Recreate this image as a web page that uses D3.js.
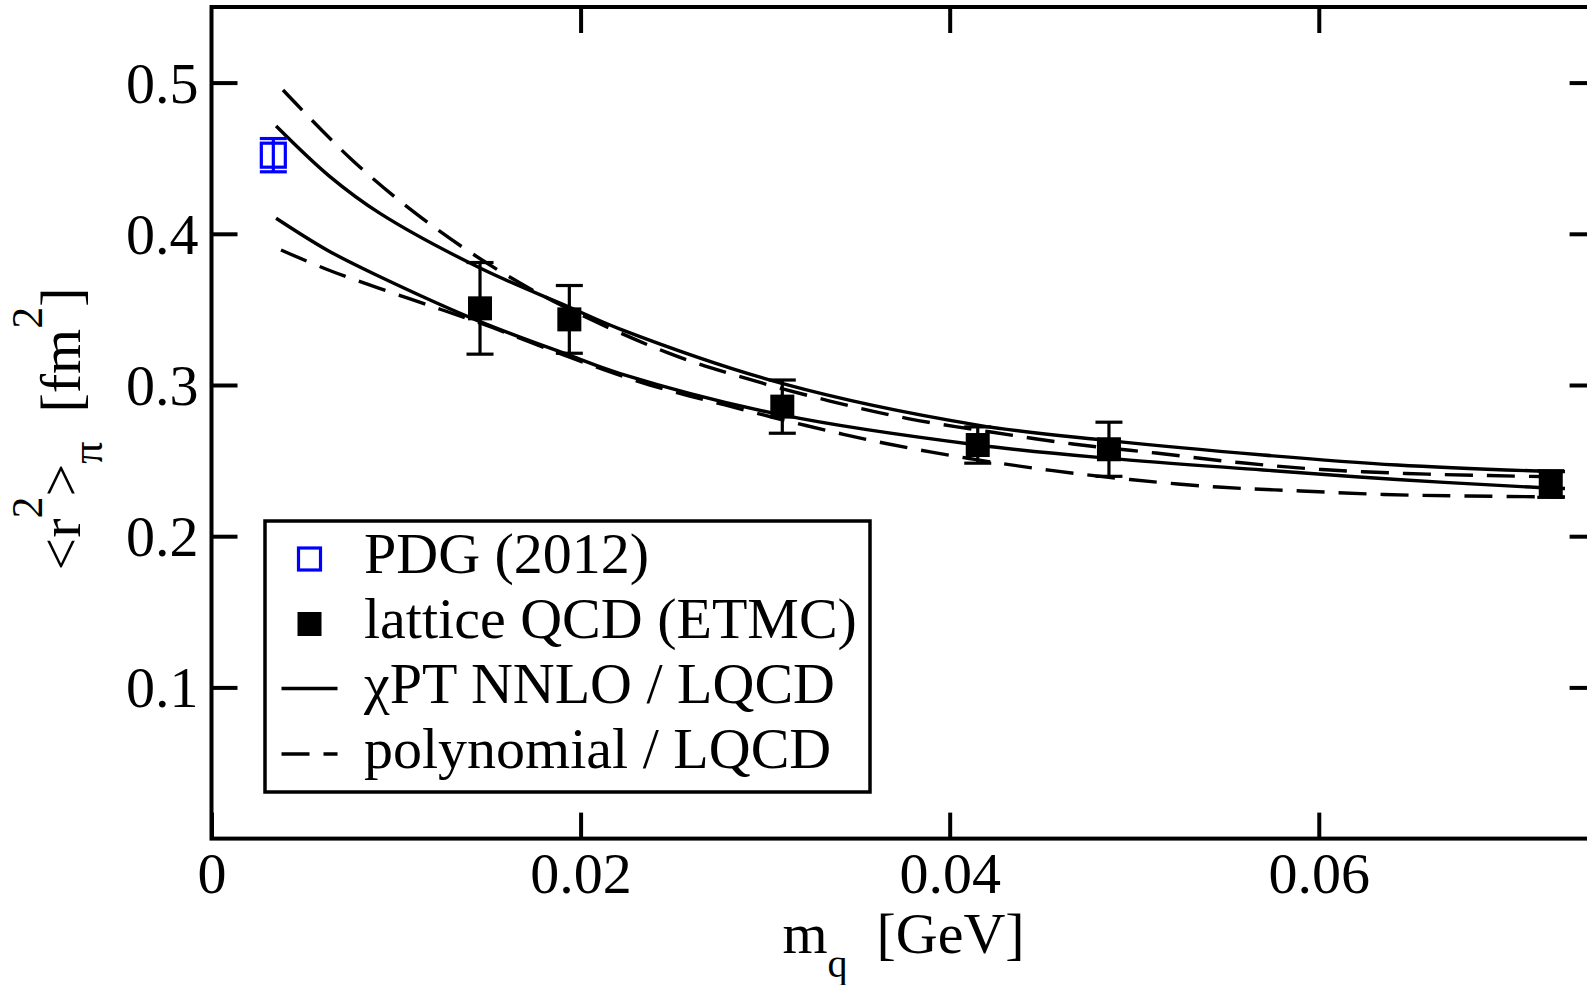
<!DOCTYPE html>
<html><head><meta charset="utf-8">
<script src="https://cdn.jsdelivr.net/npm/d3@7"></script>
<style>html,body{margin:0;padding:0;background:#fff;overflow:hidden}</style>
</head><body>
<svg id="chart" width="1587" height="985" xmlns="http://www.w3.org/2000/svg"></svg>
<script>
// ---------- data ----------
const xTicks = [0, 0.02, 0.04, 0.06];
const xTickLabels = ["0", "0.02", "0.04", "0.06"];
const yTicks = [0.1, 0.2, 0.3, 0.4, 0.5];
const yTickLabels = ["0.1", "0.2", "0.3", "0.4", "0.5"];

const pdgX = [0.00335];
const pdgY = [0.452];
const pdgErr = [0.011];

const lqcdX = [0.01455, 0.01939, 0.03093, 0.04152, 0.04863, 0.07257];
const lqcdY = [0.3507, 0.3434, 0.2857, 0.2603, 0.2575, 0.2345];
const lqcdErr = [0.0303, 0.0224, 0.0176, 0.0120, 0.0179, 0.0088];

const chptUpperX = [0.00350, 0.00640, 0.00913, 0.01455, 0.01937, 0.02214, 0.03091, 0.04152, 0.04863, 0.05698, 0.06424, 0.07145, 0.07334];
const chptUpperY = [0.4713, 0.4380, 0.4135, 0.3774, 0.3516, 0.3370, 0.3011, 0.2735, 0.2632, 0.2537, 0.2471, 0.2433, 0.2427];

const chptLowerX = [0.00350, 0.00630, 0.00913, 0.01455, 0.01937, 0.02214, 0.03091, 0.04152, 0.04863, 0.05698, 0.06424, 0.07145, 0.07334];
const chptLowerY = [0.4103, 0.3890, 0.3716, 0.3419, 0.3198, 0.3076, 0.2802, 0.2603, 0.2515, 0.2438, 0.2375, 0.2325, 0.2315];

const polyUpperX = [0.003874, 0.007559, 0.01103, 0.01466, 0.01850, 0.02474, 0.02907, 0.03351, 0.03774, 0.04224, 0.04668, 0.05118, 0.05568, 0.06017, 0.06473, 0.06922, 0.07334];
const polyUpperY = [0.4951, 0.4495, 0.4138, 0.3827, 0.3556, 0.3212, 0.3040, 0.2894, 0.2778, 0.2689, 0.2610, 0.2550, 0.2487, 0.2441, 0.2415, 0.2401, 0.2392];

const polyLowerX = [0.003766, 0.006475, 0.01076, 0.01455, 0.01937, 0.02376, 0.02782, 0.03221, 0.03655, 0.04105, 0.04549, 0.04977, 0.05454, 0.05904, 0.06353, 0.06808, 0.07334];
const polyLowerY = [0.3893, 0.3754, 0.3569, 0.3410, 0.3185, 0.3000, 0.2868, 0.2732, 0.2613, 0.2514, 0.2435, 0.2375, 0.2325, 0.2299, 0.2276, 0.2266, 0.2259];

const legendLabels = ["PDG (2012)", "lattice QCD (ETMC)", "\u03C7PT NNLO / LQCD", "polynomial / LQCD"];

// ---------- layout ----------
const FONT = "'Liberation Serif', 'Times New Roman', serif";
const FS = 58, FS_SMALL = 40;
const svg = d3.select("#chart").style("font-family", FONT);

const x = d3.scaleLinear().domain([0, 0.075]).range([211.5, 1595.6]);
const y = d3.scaleLinear().domain([0, 0.55]).range([838.6, 7]);
const X0 = x.range()[0], X1 = x.range()[1], Y0 = y.range()[0], Y1 = y.range()[1];

// ---------- curves ----------
const zip = (xs, ys) => xs.map((v, i) => [v, ys[i]]);
const line = d3.line().x(d => x(d[0])).y(d => y(d[1])).curve(d3.curveCatmullRom.alpha(0.5));
const curves = [
  {d: zip(chptUpperX, chptUpperY), dash: null},
  {d: zip(chptLowerX, chptLowerY), dash: null},
  {d: zip(polyUpperX, polyUpperY), dash: "28,14"},
  {d: zip(polyLowerX, polyLowerY), dash: "28,14"}
];
svg.append("g").selectAll("path").data(curves).join("path")
  .attr("d", c => line(c.d))
  .attr("fill", "none").attr("stroke", "#000").attr("stroke-width", 3.4)
  .attr("stroke-dasharray", c => c.dash);

// ---------- axes (ticks inward on all sides) ----------
const TL = 26;
const gB = svg.append("g").attr("transform", `translate(0,${Y0})`)
  .call(d3.axisBottom(x).tickValues(xTicks).tickSizeInner(-TL).tickSizeOuter(0)
    .tickFormat((d, i) => xTickLabels[i]));
gB.selectAll("text").attr("y", 54).attr("dy", null);
const gT = svg.append("g").attr("transform", `translate(0,${Y1})`)
  .call(d3.axisTop(x).tickValues(xTicks.filter(v => v > 0)).tickSizeInner(-TL).tickSizeOuter(0).tickFormat(""));
const gL = svg.append("g").attr("transform", `translate(${X0},0)`)
  .call(d3.axisLeft(y).tickValues(yTicks).tickSizeInner(-TL).tickSizeOuter(0)
    .tickFormat((d, i) => yTickLabels[i]));
gL.selectAll("text").attr("x", -13).attr("dy", null).attr("y", 19.5);
const gR = svg.append("g").attr("transform", `translate(${X1},0)`)
  .call(d3.axisRight(y).tickValues(yTicks).tickSizeInner(-TL).tickSizeOuter(0).tickFormat(""));
[gB, gT, gL, gR].forEach(g => {
  g.select(".domain").remove();
  g.selectAll("line").attr("stroke", "#000").attr("stroke-width", 4);
  g.selectAll("text").attr("fill", "#000").style("font-size", FS + "px").style("font-family", FONT);
});

// frame
svg.append("rect").attr("x", X0).attr("y", Y1).attr("width", X1 - X0).attr("height", Y0 - Y1)
  .attr("fill", "none").attr("stroke", "#000").attr("stroke-width", 4);

// ---------- error bars + markers ----------
const CAP = 13.5;
function errBars(xs, ys, es, color) {
  const g = svg.append("g").attr("stroke", color).attr("stroke-width", 3.2).attr("fill", "none");
  xs.forEach((xv, i) => {
    const cx = x(xv), yt = y(ys[i] + es[i]), yb = y(ys[i] - es[i]);
    g.append("line").attr("x1", cx).attr("x2", cx).attr("y1", yt).attr("y2", yb);
    g.append("line").attr("x1", cx - CAP).attr("x2", cx + CAP).attr("y1", yt).attr("y2", yt);
    g.append("line").attr("x1", cx - CAP).attr("x2", cx + CAP).attr("y1", yb).attr("y2", yb);
  });
}
errBars(lqcdX, lqcdY, lqcdErr, "#000");
svg.append("g").selectAll("rect").data(lqcdX).join("rect")
  .attr("x", (d) => x(d) - 12).attr("y", (d, i) => y(lqcdY[i]) - 12)
  .attr("width", 24).attr("height", 24).attr("fill", "#000");

errBars(pdgX, pdgY, pdgErr, "#0000ff");
svg.append("g").selectAll("rect").data(pdgX).join("rect")
  .attr("x", d => x(d) - 12).attr("y", (d, i) => y(pdgY[i]) - 12)
  .attr("width", 24).attr("height", 24).attr("fill", "none")
  .attr("stroke", "#0000ff").attr("stroke-width", 3.2);

// ---------- legend ----------
const lg = svg.append("g");
lg.append("rect").attr("x", 265).attr("y", 521).attr("width", 605).attr("height", 271)
  .attr("fill", "#fff").attr("stroke", "#000").attr("stroke-width", 3.5);
const rowY = [559, 624, 688.5, 754];
const symX = 309.5, txtX = 364;
lg.append("rect").attr("x", symX - 11).attr("y", rowY[0] - 11).attr("width", 22).attr("height", 22)
  .attr("fill", "none").attr("stroke", "#0000ff").attr("stroke-width", 3.2);
lg.append("rect").attr("x", symX - 12).attr("y", rowY[1] - 12).attr("width", 24).attr("height", 24)
  .attr("fill", "#000");
lg.append("line").attr("x1", 281.5).attr("x2", 337.5).attr("y1", rowY[2]).attr("y2", rowY[2])
  .attr("stroke", "#000").attr("stroke-width", 3.4);
lg.append("line").attr("x1", 281.5).attr("x2", 337.5).attr("y1", rowY[3]).attr("y2", rowY[3])
  .attr("stroke", "#000").attr("stroke-width", 3.4).attr("stroke-dasharray", "28,14");
lg.selectAll("text.lab").data(legendLabels).join("text").attr("class", "lab")
  .attr("x", txtX).attr("y", (d, i) => rowY[i] + 14)
  .style("font-size", FS + "px").attr("fill", "#000").text(d => d);

// ---------- axis titles ----------
const xt = svg.append("text").attr("x", (X0 + X1) / 2).attr("y", 953)
  .attr("text-anchor", "middle").style("font-size", FS + "px").attr("fill", "#000");
xt.append("tspan").text("m");
xt.append("tspan").attr("dy", 24).style("font-size", FS_SMALL + "px").text("q");
xt.append("tspan").attr("dy", -24).text("\u00a0\u00a0[GeV]");

const YS = 44;
const yt = svg.append("text").attr("transform", `translate(80,429) rotate(-90)`)
  .attr("text-anchor", "middle").style("font-size", FS + "px").attr("fill", "#000");
yt.append("tspan").text("<r");
yt.append("tspan").attr("dy", -38).style("font-size", YS + "px").text("2");
yt.append("tspan").attr("dy", 38).text(">");
yt.append("tspan").attr("dy", 22).style("font-size", YS + "px").text("\u03C0");
yt.append("tspan").attr("dy", -22).text("\u00a0\u00a0[fm");
yt.append("tspan").attr("dy", -38).style("font-size", YS + "px").text("2");
yt.append("tspan").attr("dy", 38).text("]");
</script>
</body></html>
